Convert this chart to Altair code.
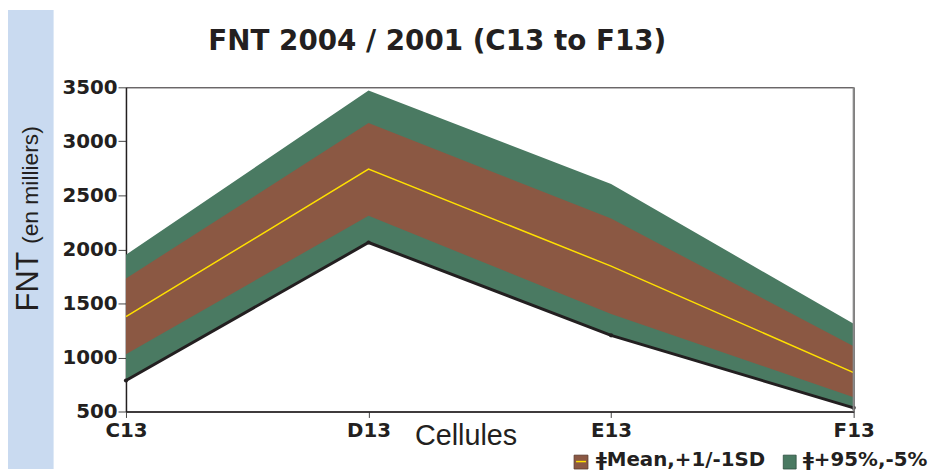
import altair as alt
import pandas as pd

# ---- data ----
cells = ["C13", "D13", "E13", "F13"]
p5 = [787, 2064, 1205, 534]          # -5% (black line, bottom of green band)
sd_lo = [1031, 2311, 1402, 632]      # mean - 1 SD
mean = [1378, 2743, 1845, 860]       # mean (yellow line)
sd_hi = [1731, 3170, 2286, 1104]     # mean + 1 SD
p95 = [1950, 3470, 2606, 1311]       # +95%
y_ticks = [500, 1000, 1500, 2000, 2500, 3000, 3500]

title_text = ["FNT 2004 / 2001 (C13 to F13)"]
x_title = ["Cellules"]
y_title_main = ["FNT"]
y_title_sub = ["(en milliers)"]
legend_labels = ["ǂMean,+1/-1SD", "ǂ+95%,-5%"]

GREEN = "#4a7a62"
BROWN = "#8b5843"
YELLOW = "#ffe000"
BLUE = "#c9daf0"
INK = "#231f20"
BOLD = "DejaVu Sans"
PLAIN = "Liberation Sans"

df = pd.DataFrame(dict(cell=cells, p5=p5, lo=sd_lo, mean=mean, hi=sd_hi, p95=p95))

W, H = 734, 327          # plot area
PL, PT = 119, 78         # left / top padding
CW, CH = 929, 463        # whole canvas

x_enc = alt.X("cell:N", sort=cells, scale=alt.Scale(type="point", padding=0),
              axis=alt.Axis(title=None, labelAngle=0))
y_scale = alt.Scale(domain=[500, 3500], nice=False, zero=False)
y_axis = alt.Axis(title=None, values=y_ticks, format="d")

one = pd.DataFrame({"k": [0]})

bg = alt.Chart(one).mark_rect(color=BLUE).encode(
    x=alt.value(-PL), x2=alt.value(-PL + 46), y=alt.value(-PT), y2=alt.value(CH - PT))

base = alt.Chart(df).encode(x=x_enc)
green = base.mark_area(color=GREEN).encode(
    y=alt.Y("p95:Q", scale=y_scale, axis=y_axis), y2="p5:Q")
brown = base.mark_area(color=BROWN).encode(
    y=alt.Y("hi:Q", scale=y_scale, axis=y_axis), y2="lo:Q")
mean_line = base.mark_line(color=YELLOW, strokeWidth=1.5).encode(
    y=alt.Y("mean:Q", scale=y_scale, axis=y_axis))
low_line = base.mark_line(color=INK, strokeWidth=3).encode(
    y=alt.Y("p5:Q", scale=y_scale, axis=y_axis))
low_pts = base.mark_point(color=INK, filled=True, size=18, opacity=1).encode(
    y=alt.Y("p5:Q", scale=y_scale, axis=y_axis))

right_edge = alt.Chart(one).mark_rule(color="#8a8a8a", strokeWidth=2).encode(
    x=alt.value(W), y=alt.value(0), y2=alt.value(H))

title = alt.Chart(pd.DataFrame({"t": title_text})).mark_text(
    font=BOLD, fontWeight="bold", fontSize=28, color=INK, align="center", baseline="alphabetic"
).encode(text="t:N", x=alt.value(314), y=alt.value(-38))

xt = alt.Chart(pd.DataFrame({"t": x_title})).mark_text(
    font=PLAIN, fontSize=29, color=INK, align="center", baseline="alphabetic"
).encode(text="t:N", x=alt.value(343), y=alt.value(361))

yt1 = alt.Chart(pd.DataFrame({"t": y_title_main})).mark_text(
    font=PLAIN, fontSize=31, color=INK, align="left", baseline="alphabetic", angle=270
).encode(text="t:N", x=alt.value(-89), y=alt.value(226))

yt2 = alt.Chart(pd.DataFrame({"t": y_title_sub})).mark_text(
    font=PLAIN, fontSize=23, color=INK, align="left", baseline="alphabetic", angle=270
).encode(text="t:N", x=alt.value(-89), y=alt.value(158))

# legend (drawn by hand, bottom right)
sw1 = alt.Chart(one).mark_rect(color=BROWN, stroke="#5a3a2c", strokeWidth=0.8).encode(
    x=alt.value(452), x2=alt.value(466), y=alt.value(371), y2=alt.value(385))
sw1_line = alt.Chart(one).mark_rule(color=YELLOW, strokeWidth=1.5).encode(
    x=alt.value(454), x2=alt.value(464), y=alt.value(377.5))
sw2 = alt.Chart(one).mark_rect(color=GREEN, stroke="#2f5040", strokeWidth=0.8).encode(
    x=alt.value(663), x2=alt.value(676), y=alt.value(371), y2=alt.value(385))
leg1 = alt.Chart(pd.DataFrame({"t": [legend_labels[0]]})).mark_text(
    font=BOLD, fontWeight="bold", fontSize=20, color=INK, align="left", baseline="alphabetic"
).encode(text="t:N", x=alt.value(474), y=alt.value(382))
leg2 = alt.Chart(pd.DataFrame({"t": [legend_labels[1]]})).mark_text(
    font=BOLD, fontWeight="bold", fontSize=20, color=INK, align="left", baseline="alphabetic"
).encode(text="t:N", x=alt.value(683), y=alt.value(382))

chart = alt.layer(
    bg, green, brown, mean_line, low_line, low_pts, right_edge,
    title, xt, yt1, yt2, sw1, sw1_line, sw2, leg1, leg2
).properties(
    width=W, height=H,
    autosize=alt.AutoSizeParams(type="none"),
    padding={"left": PL, "top": PT, "right": CW - PL - W, "bottom": CH - PT - H},
    background="white",
).configure_view(
    stroke=INK, strokeWidth=1
).configure_axis(
    grid=False,
    labelFont=BOLD, labelFontWeight="bold", labelFontSize=20, labelColor=INK,
    domainColor=INK, domainWidth=1.5, tickColor="#444", tickWidth=1,
).configure_axisX(
    tickSize=6, labelPadding=3, labelBaseline="top",
).configure_axisY(
    tickSize=8, labelPadding=1,
)

chart.save("out.html", embed_options={"renderer": "svg", "actions": False})
